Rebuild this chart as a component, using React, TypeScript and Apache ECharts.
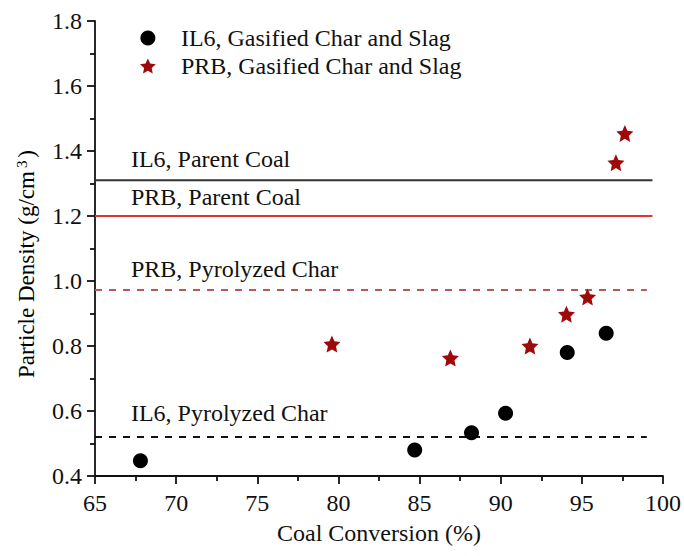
import React, { useEffect, useRef } from "react";
import * as echarts from "echarts";

// Gasified char and slag samples: [coal conversion %, particle density g/cm3]
const il6Gasified: [number, number][] = [
  [67.8, 0.447],
  [84.7, 0.48],
  [88.2, 0.533],
  [90.3, 0.593],
  [94.1, 0.78],
  [96.5, 0.839],
];
const prbGasified: [number, number][] = [
  [79.6, 0.806],
  [86.9, 0.763],
  [91.8, 0.8],
  [94.05, 0.898],
  [95.35, 0.951],
  [97.1, 1.364],
  [97.65, 1.454],
];

// Reference densities drawn as horizontal lines
const refNames = ["IL6, Parent Coal", "PRB, Parent Coal", "PRB, Pyrolyzed Char", "IL6, Pyrolyzed Char"];
const refValues = [1.31, 1.2, 0.972, 0.52];
const refEnds = [99.35, 99.35, 99.0, 99.0];
const refColors = ["#333333", "#e03535", "#b45a5a", "#111111"];
const refDashed = [false, false, true, true];
// vertical gap (px) between each line and its caption's baseline
const refCaptionGap = [12.5, 10, 13, 15];

const xRange = [65, 100];
const yRange = [0.4, 1.8];

// five-pointed star, slightly stocky
const STAR =
  "path://M50,0 L64.11,30.58 L97.55,34.55 L72.83,57.42 L79.39,90.45 L50,74 L20.61,90.45 L27.17,57.42 L2.45,34.55 L35.89,30.58 Z";

const FONT = "Liberation Serif";
const FS = 24;

export default function App() {
  const ref = useRef<HTMLDivElement>(null);

  useEffect(() => {
    if (!ref.current) return;
    const chart = echarts.init(ref.current, undefined, { renderer: "svg" });

    const refSeries = refNames.map((name, i) => ({
      type: "line" as const,
      name,
      data: [
        {
          value: [xRange[0], refValues[i]],
          label: {
            show: true,
            formatter: name,
            position: [36, -(refCaptionGap[i] + 20.5)],
            fontFamily: FONT,
            fontSize: FS,
            color: "#111",
          },
        },
        { value: [refEnds[i], refValues[i]] },
      ],
      symbol: "circle",
      symbolSize: 0.1,
      itemStyle: { color: refColors[i] },
      lineStyle: {
        color: refColors[i],
        width: 2,
        type: refDashed[i] ? [7, 7] : "solid",
      },
      silent: true,
      z: 1,
    }));

    chart.setOption({
      animation: false,
      backgroundColor: "#ffffff",
      grid: { left: 95, right: 21, top: 21, bottom: 80, containLabel: false },
      legend: {
        data: ["IL6, Gasified Char and Slag", "PRB, Gasified Char and Slag"],
        orient: "vertical",
        left: 135,
        top: 21,
        itemWidth: 56,
        itemHeight: 15,
        itemGap: 4,
        textStyle: { fontFamily: FONT, fontSize: FS, color: "#111" },
      },
      xAxis: {
        type: "value",
        min: xRange[0],
        max: xRange[1],
        interval: 5,
        name: "Coal Conversion (%)",
        nameLocation: "middle",
        nameGap: 45,
        nameTextStyle: { fontFamily: FONT, fontSize: FS, color: "#111" },
        axisLine: { onZero: false, lineStyle: { color: "#111", width: 1.8 } },
        axisTick: { length: 8, lineStyle: { color: "#111", width: 1.8 } },
        minorTick: { show: true, splitNumber: 2, length: 5, lineStyle: { color: "#111", width: 1.8 } },
        axisLabel: { margin: 15, fontFamily: FONT, fontSize: FS, color: "#111" },
        splitLine: { show: false },
      },
      yAxis: {
        type: "value",
        min: yRange[0],
        max: yRange[1],
        interval: 0.2,
        axisLine: { show: true, onZero: false, lineStyle: { color: "#111", width: 1.8 } },
        axisTick: { show: true, length: 8, lineStyle: { color: "#111", width: 1.8 } },
        minorTick: { show: true, splitNumber: 2, length: 5, lineStyle: { color: "#111", width: 1.8 } },
        axisLabel: {
          margin: 13,
          fontFamily: FONT,
          fontSize: FS,
          color: "#111",
          formatter: (v: number) => v.toFixed(1),
        },
        splitLine: { show: false },
      },
      graphic: [
        {
          type: "text",
          x: 26,
          y: 264,
          rotation: Math.PI / 2,
          style: {
            text: "{m|Particle Density (g/cm}{s|3}{m|)}",
            align: "center",
            verticalAlign: "middle",
            rich: {
              m: { fontFamily: FONT, fontSize: 23, color: "#111", lineHeight: 24 },
              s: { fontFamily: FONT, fontSize: 15, color: "#111", verticalAlign: "top", lineHeight: 24, padding: [0, 3, 0, 3] },
            },
          },
        },
      ],
      series: [
        ...refSeries,
        {
          type: "scatter",
          name: "IL6, Gasified Char and Slag",
          data: il6Gasified,
          symbol: "circle",
          symbolSize: 15,
          itemStyle: { color: "#000000", opacity: 1 },
          z: 3,
        },
        {
          type: "scatter",
          name: "PRB, Gasified Char and Slag",
          data: prbGasified,
          symbol: STAR,
          symbolSize: 17,
          itemStyle: { color: "#9e0a0a", opacity: 1 },
          z: 3,
        },
      ],
    });

    return () => chart.dispose();
  }, []);

  return (
    <div
      ref={ref}
      style={{ position: "fixed", left: 0, top: 0, width: 684, height: 556, background: "#fff" }}
    />
  );
}
